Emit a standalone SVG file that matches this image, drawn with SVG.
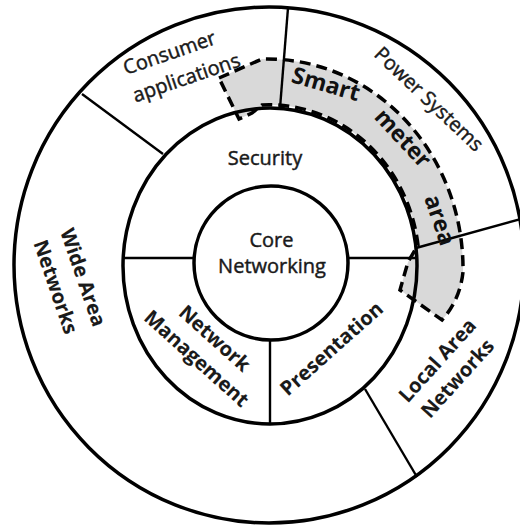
<svg xmlns="http://www.w3.org/2000/svg" width="520" height="527" viewBox="0 0 520 527">
<style>
.ring{fill:none;stroke:#000;stroke-width:3.5}
.div{stroke:#000;stroke-width:2.4;fill:none}
.t{font-family:"Open Sans","Liberation Sans",sans-serif;font-size:20px;fill:#1a1a1a;stroke:#1a1a1a;stroke-width:0.45}
.b{font-weight:bold;stroke-width:0.1}
.sm{font-family:"Open Sans","Liberation Sans",sans-serif;font-size:23px;font-weight:bold;fill:#111}
</style>
<rect width="520" height="527" fill="#fff"/>
<g id="smart-meter-area-fill">
<path d="M219,78 L262,59 A196 210 0 0 1 463,272 Q460,300 442,320 L400,290 L408,262 L418,245 A150 161 0 0 0 262,105 L252,113 L239,119 Z" fill="#d9d9d9" stroke="none"/>
</g>
<g id="rings">
<ellipse id="outer-ring" class="ring" cx="269" cy="265" rx="255" ry="258"/>
<ellipse id="middle-ring" class="ring" cx="270" cy="266" rx="147" ry="158"/>
<circle id="core" class="ring" cx="271" cy="263" r="77" stroke-width="3.2"/>
</g>
<g id="connectors">
<line class="div" x1="82" y1="94" x2="163" y2="154"/>
<line class="div" x1="288" y1="8" x2="280" y2="108"/>
<line class="div" x1="416" y1="248" x2="521" y2="219" stroke="#333" stroke-width="2"/>
<line class="div" x1="365" y1="389" x2="417" y2="477"/>
<line class="div" x1="123" y1="258" x2="194" y2="258"/>
<line class="div" x1="348" y1="258" x2="416" y2="258"/>
<line class="div" x1="270" y1="340" x2="270" y2="424"/>
</g>
<g id="smart-meter-area-outline">
<path d="M219,78 L262,59 A196 210 0 0 1 463,272 Q460,300 442,320 L400,290 L408,262 L418,245 A150 161 0 0 0 262,105 L252,113 L239,119 Z" fill="none" stroke="#000" stroke-width="3.5" stroke-dasharray="11 6"/>
</g>
<g id="node-core">
<text class="t" x="271.5" y="247" text-anchor="middle">Core</text>
<text class="t" x="272" y="273" text-anchor="middle">Networking</text>
</g>
<g id="node-security">
<text class="t" x="265" y="165" text-anchor="middle">Security</text>
</g>
<g id="node-network-management">
<g transform="translate(206,348) rotate(42)">
<text class="t b" text-anchor="middle"><tspan x="0" y="-6">Network</tspan><tspan x="0" y="21">Management</tspan></text>
</g>
</g>
<g id="node-presentation">
<g transform="translate(331.5,348.5) rotate(-41.7)">
<text class="t b" x="0" y="7" text-anchor="middle">Presentation</text>
</g>
</g>
<g id="node-consumer-applications">
<g transform="translate(126,75) rotate(-19)">
<text class="t"><tspan x="0" y="0">Consumer</tspan><tspan x="0" y="29">applications</tspan></text>
</g>
</g>
<g id="node-power-systems">
<g transform="translate(429,99) rotate(43.4)">
<text class="t" x="0" y="7" text-anchor="middle">Power Systems</text>
</g>
</g>
<g id="node-wide-area-networks">
<g transform="translate(70,282) rotate(71)">
<text class="t b" text-anchor="middle"><tspan x="0" y="-7">Wide Area</tspan><tspan x="0" y="22">Networks</tspan></text>
</g>
</g>
<g id="node-local-area-networks">
<g transform="translate(447,369) rotate(-48)">
<text class="t b" text-anchor="middle"><tspan x="0" y="-6">Local Area</tspan><tspan x="0" y="21">Networks</tspan></text>
</g>
</g>
<g id="node-smart-meter-area">
<text class="sm" text-anchor="middle" transform="translate(326,84) rotate(16)" y="8">Smart</text>
<text class="sm" text-anchor="middle" transform="translate(403,138) rotate(47)" y="8">meter</text>
<text class="sm" text-anchor="middle" transform="translate(440,220) rotate(71)" y="8">area</text>
</g>
</svg>
